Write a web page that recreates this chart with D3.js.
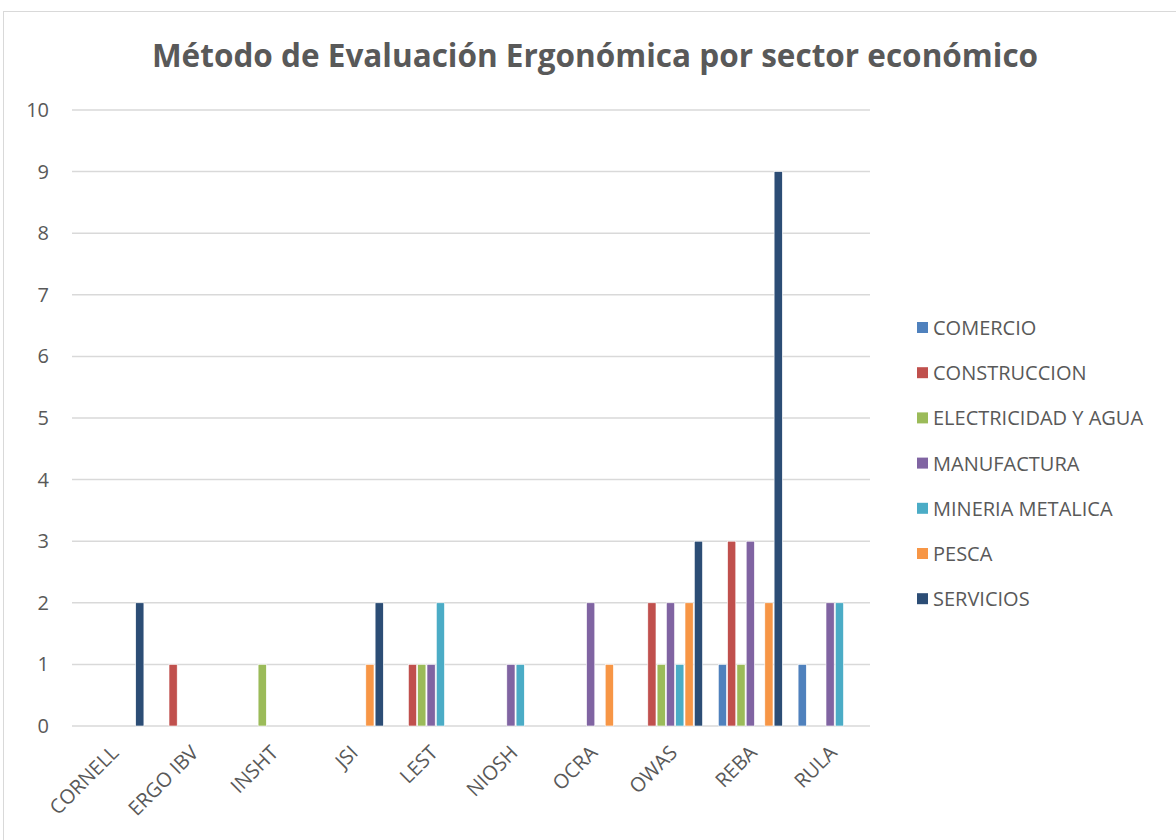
<!DOCTYPE html>
<html>
<head>
<meta charset="utf-8">
<script src="https://cdn.jsdelivr.net/npm/d3@7"></script>
<style>
  body { margin: 0; background: #fff; }
  text { font-family: "Open Sans", "Noto Sans", sans-serif; fill: #595959; }
</style>
</head>
<body>
<svg id="chart" width="1176" height="840"></svg>
<script>
const categories = ["CORNELL", "ERGO IBV", "INSHT", "JSI", "LEST", "NIOSH", "OCRA", "OWAS", "REBA", "RULA"];
const seriesNames = ["COMERCIO", "CONSTRUCCION", "ELECTRICIDAD Y AGUA", "MANUFACTURA", "MINERIA METALICA", "PESCA", "SERVICIOS"];
const colors = ["#4F81BD", "#C0504D", "#9BBB59", "#8064A2", "#4BACC6", "#F79646", "#2C4D75"];

// values per sector, in category order
const comercio     = [0, 0, 0, 0, 0, 0, 0, 0, 1, 1];
const construccion = [0, 1, 0, 0, 1, 0, 0, 2, 3, 0];
const electricidad = [0, 0, 1, 0, 1, 0, 0, 1, 1, 0];
const manufactura  = [0, 0, 0, 0, 1, 1, 2, 2, 3, 2];
const mineria      = [0, 0, 0, 0, 2, 1, 0, 1, 0, 2];
const pesca        = [0, 0, 0, 1, 0, 0, 1, 2, 2, 0];
const servicios    = [2, 0, 0, 2, 0, 0, 0, 3, 9, 0];
const yTicks = [0, 1, 2, 3, 4, 5, 6, 7, 8, 9, 10];

const seriesValues = [comercio, construccion, electricidad, manufactura, mineria, pesca, servicios];

const svg = d3.select("#chart");

// outer chart border
svg.append("rect")
  .attr("x", 3.5).attr("y", 11.5)
  .attr("width", 1180).attr("height", 840)
  .attr("fill", "none").attr("stroke", "#d9d9d9");

const margin = { left: 72, right: 870, top: 110, bottom: 726 };

const x0 = d3.scaleBand()
  .domain(categories)
  .range([margin.left, margin.right])
  .paddingInner(0.17)
  .paddingOuter(0.085);

const x1 = d3.scaleBand()
  .domain(d3.range(seriesNames.length))
  .range([0, x0.bandwidth()])
  .padding(0.12);

const y = d3.scaleLinear().domain([0, 10]).range([margin.bottom, margin.top]);

// title
svg.append("text")
  .attr("x", 595).attr("y", 67)
  .attr("text-anchor", "middle")
  .attr("font-size", 31.5).attr("font-weight", "bold")
  .text("Método de Evaluación Ergonómica por sector económico");

// gridlines
svg.append("g")
  .selectAll("line")
  .data(yTicks)
  .join("line")
  .attr("x1", margin.left).attr("x2", margin.right)
  .attr("y1", d => y(d)).attr("y2", d => y(d))
  .attr("stroke", "#d9d9d9").attr("stroke-width", 1.5);

// y axis labels
const yAxis = svg.append("g")
  .attr("transform", `translate(${margin.left - 23},0)`)
  .call(d3.axisLeft(y).tickValues(yTicks).tickSize(0).tickPadding(0));
yAxis.select(".domain").remove();
yAxis.selectAll("text")
  .attr("font-size", 20)
  .attr("font-family", null)
  .attr("fill", "#595959");

// bars
const rows = [];
categories.forEach((c, i) => {
  seriesValues.forEach((vals, s) => {
    if (vals[i] > 0) rows.push({ cat: c, s: s, v: vals[i] });
  });
});

svg.append("g")
  .selectAll("rect")
  .data(rows)
  .join("rect")
  .attr("x", d => x0(d.cat) + x1(d.s))
  .attr("width", x1.bandwidth())
  .attr("y", d => y(d.v))
  .attr("height", d => y(0) - y(d.v))
  .attr("fill", d => colors[d.s])
  .attr("stroke", "#fff")
  .attr("stroke-width", 0.6);

// x labels, rotated
svg.append("g")
  .selectAll("text")
  .data(categories)
  .join("text")
  .attr("transform", d => `translate(${x0(d) + x0.bandwidth() / 2 + 8},${margin.bottom + 28}) rotate(-45)`)
  .attr("text-anchor", "end")
  .attr("font-size", 20)
  .text(d => d);

// legend
const legend = svg.append("g")
  .selectAll("g")
  .data(seriesNames)
  .join("g")
  .attr("transform", (d, i) => `translate(917,${328 + i * 45.2})`);

legend.append("rect")
  .attr("x", 0).attr("y", -6)
  .attr("width", 11).attr("height", 11)
  .attr("fill", (d, i) => colors[i]);

legend.append("text")
  .attr("x", 16).attr("y", 0)
  .attr("dy", "0.35em")
  .attr("font-size", 20)
  .text(d => d);
</script>
</body>
</html>
